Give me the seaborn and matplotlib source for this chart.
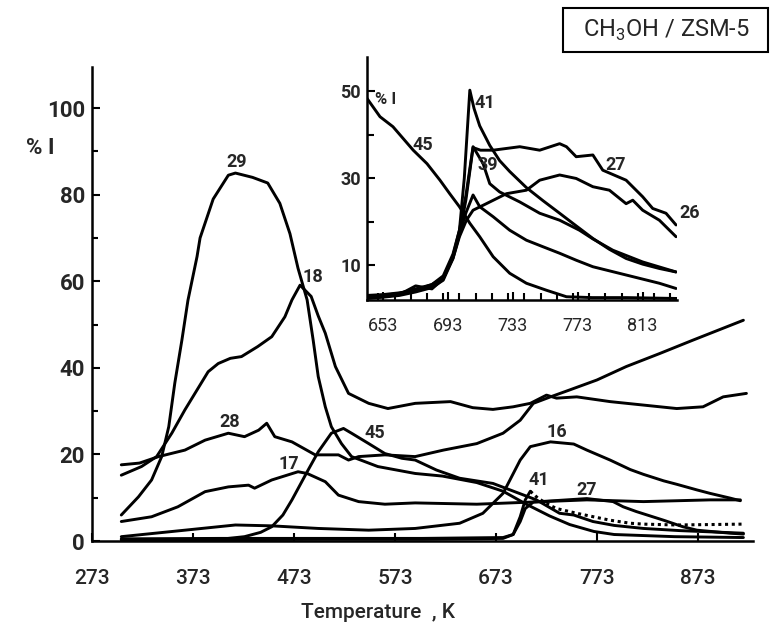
import matplotlib
matplotlib.use("Agg")
import matplotlib.pyplot as plt
from matplotlib.patches import Rectangle
from matplotlib.ticker import MultipleLocator
import seaborn as sns

# ---- main panel: temperature (K) and intensity (%I) per m/z ----
t29 = [302, 319, 332, 342, 349, 355, 362, 368, 377, 380, 393, 408, 415, 432, 447, 459, 469, 477, 486,
       492, 497, 504, 510, 520, 530, 556, 593, 620, 654, 680, 703, 726, 746, 770, 790, 850, 918]
i29 = [6.0, 10.2, 14.1, 19.5, 26.4, 36.5, 46.4, 55.6, 65.7, 70, 79, 84.5, 85, 84, 82.7, 78, 71, 63, 55.7,
       46.4, 38, 31, 26.4, 22.5, 19.5, 17.2, 15.6, 15.0, 13.5, 11.5, 8.5, 5.8, 3.8, 2.2, 1.5, 1.0, 0.8]

t18 = [302, 322, 337, 352, 365, 388, 398, 410, 421, 437, 451, 464, 471, 479, 490, 497, 504, 514, 527,
       547, 566, 593, 628, 650, 670, 690, 707, 723, 733, 753, 786, 819, 852, 878, 898, 921]
i18 = [15.2, 17.2, 19.5, 24.9, 30.3, 39.1, 41, 42.2, 42.6, 44.9, 47.2, 51.8, 55.7, 59.1, 56.5, 52, 48,
       40.3, 34.1, 31.8, 30.6, 31.8, 32.2, 30.8, 30.4, 31.0, 31.8, 33.7, 33.0, 33.3, 32.2, 31.4, 30.6,
       31.0, 33.3, 34.1]

t28 = [302, 320, 339, 365, 385, 408, 424, 438, 446, 454, 471, 494, 517, 527, 537, 563, 593, 621, 654,
       680, 697, 710, 727, 746, 773, 802, 835, 868, 918]
i28 = [17.6, 18.0, 19.5, 21, 23.3, 24.9, 24.1, 25.6, 27.2, 24.1, 22.9, 19.9, 19.9, 18.7, 19.5, 19.9,
       19.5, 21, 22.5, 24.9, 27.9, 31.8, 33.3, 34.9, 37.2, 40.3, 43.3, 46.4, 51.0]

t17 = [302, 332, 358, 385, 408, 428, 434, 451, 477, 486, 504, 517, 537, 563, 593, 654, 720, 763, 819,
       885, 915]
i17 = [4.5, 5.6, 7.9, 11.4, 12.5, 12.9, 12.2, 14.1, 16.0, 15.6, 13.7, 10.6, 9.1, 8.5, 8.8, 8.5, 9.1,
       9.5, 9.1, 9.5, 9.5]

t45 = [302, 350, 400, 424, 440, 451, 462, 471, 487, 497, 510, 522, 530, 547, 563, 580, 593, 614, 637,
       670, 687, 713, 736, 750, 769, 790, 819, 855, 918]
i45 = [0.3, 0.3, 0.4, 1.0, 2.0, 3.3, 6.0, 9.5, 16.4, 20.6, 24.9, 26.0, 24.9, 22.5, 20.2, 19.1, 18.7,
       16.4, 14.5, 13.3, 11.8, 9.5, 6.4, 6.0, 4.5, 3.6, 2.9, 2.4, 1.8]

t16 = [302, 365, 415, 451, 497, 547, 593, 637, 660, 680, 697, 707, 727, 750, 763, 786, 806, 819, 839,
       852, 872, 885, 905, 915]
i16 = [1.0, 2.5, 3.7, 3.5, 2.9, 2.5, 2.9, 4.1, 6.4, 11.0, 18.7, 21.8, 22.9, 22.4, 21.0, 18.7, 16.5,
       15.4, 13.9, 13.1, 11.8, 11.0, 9.9, 9.3]

t41 = [302, 400, 500, 600, 680, 690, 697, 702, 707]
i41 = [0.3, 0.3, 0.4, 0.4, 0.6, 1.5, 5.6, 9.5, 11.5]
t41_tail = [707, 715, 726, 733, 753, 786, 806, 819, 852, 885, 918]
i41_tail = [11.5, 9.8, 8.3, 7.5, 6.4, 4.8, 4.1, 3.9, 3.7, 3.8, 3.9]

t27 = [302, 400, 500, 600, 680, 690, 697, 702, 710, 730, 763, 789, 799, 812, 839, 858, 872, 905, 918]
i27 = [0.5, 0.6, 0.6, 0.6, 0.8, 1.5, 4.5, 7.5, 9.0, 9.3, 9.8, 9.1, 7.9, 6.8, 4.8, 3.3, 2.5, 1.8, 1.6]

main_labels = ["29", "18", "28", "17", "45", "16", "41", "27"]
main_label_pos = [(416, 87.6), (492, 61.0), (409.6, 27.6), (467.4, 17.9), (553, 24.9),
                  (733, 25.2), (715, 14.1), (763, 11.8)]

# ---- inset: 653-833 K ----
s45 = [643, 651, 659, 671.5, 680, 688, 694, 700, 706.4, 712.5, 720.8, 731, 741.3, 753.6, 766, 782, 803, 834]
v45 = [48.3, 44.1, 41.8, 36.4, 33.3, 29.5, 26.4, 23.4, 19.6, 16.5, 11.9, 8.1, 5.8, 4.2, 2.7, 2.5, 2.5, 2.3]

s41 = [643, 653, 663, 673, 683, 690, 696, 700, 703, 706.4, 709, 712.5, 718.7, 724.8, 731, 741.3, 751.5,
       761.8, 772, 782.3, 792.5, 802.8, 813, 823.3, 833.5]
v41 = [2.5, 2.8, 3.3, 4.0, 5.0, 7.0, 12, 18, 30, 50.2, 46, 42, 37.5, 34, 31.5, 27.8, 24.8, 21.9, 19,
       16.1, 13.6, 11.5, 10.2, 9.2, 8.4]

s39 = [643, 653, 663, 673, 683, 690, 696, 700, 704, 708.4, 714.6, 718.7, 724.8, 737.2, 749.5, 761.8,
       774, 782.3, 794.6, 813, 833.6]
v39 = [2.8, 3.0, 3.5, 4.5, 5.5, 7.5, 12.5, 18, 26, 37.2, 33.3, 28.7, 26.8, 24.5, 21.9, 20.3, 18.0,
       16.0, 13.4, 10.7, 8.4]

s27 = [643, 653, 663, 673, 683, 690, 696, 700, 704, 708.4, 713, 720.8, 737.2, 749.5, 761.8, 766, 772,
       782.3, 788.4, 802.8, 813, 819.2, 827.4, 833.6]
v27 = [2.3, 2.6, 3.0, 3.8, 4.8, 6.5, 11.5, 17, 25, 37.0, 36.4, 36.4, 37.2, 36.4, 37.9, 37.2, 34.9,
       35.3, 31.8, 29.5, 25.7, 23.0, 21.9, 19.2]

s26 = [643, 653, 663, 673, 683, 690, 696, 700, 704.3, 708.4, 716.6, 729, 741.3, 749.5, 761.8, 772,
       782.3, 792.5, 802.8, 806.9, 813, 823.3, 833.6]
v26 = [3.0, 3.2, 3.6, 4.2, 5.5, 7.0, 11.5, 16.5, 20.3, 22.6, 24.1, 26.4, 27.2, 29.5, 30.7, 29.9, 28.0,
       27.2, 24.1, 24.9, 22.6, 20.3, 16.5]

sx = [643, 653, 663, 673, 683, 690, 696, 700, 704, 708.4, 712.5, 720.8, 731, 741.3, 751.5, 761.8, 772,
      782.3, 802.8, 823.3, 833.6]
vx = [2.4, 2.7, 3.2, 5.2, 4.5, 6.8, 12, 17, 22, 26.1, 23.4, 21.1, 18, 15.7, 14.2, 12.7, 11.1, 9.6,
      7.7, 5.8, 4.6]

inset_labels = ["41", "45", "39", "27", "26"]
inset_label_pos = [(715.6, 47.2), (677.6, 37.6), (717.6, 33.0), (796.6, 33.0), (841.7, 22.0)]

main_xticks = [273, 373, 473, 573, 673, 773, 873]
inset_xticks = [653, 693, 733, 773, 813]

sns.set_theme(style="ticks")
plt.rcParams["font.family"] = ["Roboto", "DejaVu Sans"]
plt.rcParams["mathtext.fontset"] = "custom"
plt.rcParams["mathtext.rm"] = "Roboto"

W, H = 774, 632
fig = plt.figure(figsize=(W / 100, H / 100), dpi=100)
fig.patch.set_facecolor("white")

ax = fig.add_axes([92 / W, 1 - 541 / H, (753 - 92) / W, (541 - 67) / H])
ins = fig.add_axes([366.7 / W, 1 - 300 / H, (676.7 - 366.7) / W, (300 - 56.7) / H])

line_kw = dict(color="black", linewidth=2.1, estimator=None, sort=False, legend=False)

for t, v in [(t29, i29), (t18, i18), (t28, i28), (t17, i17), (t45, i45), (t16, i16), (t41, i41), (t27, i27)]:
    sns.lineplot(x=t, y=v, ax=ax, **line_kw)
sns.lineplot(x=t41_tail, y=i41_tail, ax=ax, color="black", linewidth=2.2, linestyle=(0, (1, 1.2)),
             estimator=None, sort=False, legend=False)

for t, v in [(s45, v45), (s41, v41), (s39, v39), (s27, v27), (s26, v26), (sx, vx)]:
    sns.lineplot(x=t, y=v, ax=ins, **line_kw)

for a in (ax, ins):
    a.set_facecolor("none")
    sns.despine(ax=a)
    for sp in ("left", "bottom"):
        a.spines[sp].set_linewidth(1.8)
        a.spines[sp].set_color("black")
    a.set_xlabel("")
    a.set_ylabel("")

ax.set_xlim(273, 927.5)
ax.set_ylim(0, 109.5)
ax.set_xticks(main_xticks)
ax.yaxis.set_major_locator(MultipleLocator(20))
ax.yaxis.set_minor_locator(MultipleLocator(10))
ax.tick_params(axis="both", which="major", direction="in", length=6, width=1.5, color="black")
ax.tick_params(axis="y", which="minor", direction="in", length=4, width=1.5, color="black")
ax.tick_params(axis="x", pad=20, labelsize=15)
ax.tick_params(axis="y", pad=5, labelsize=16)
for lab in ax.get_xticklabels():
    lab.set_fontweight("medium")
for lab in ax.get_yticklabels():
    lab.set_fontweight("bold")

ins.set_xlim(642.8, 834)
ins.set_ylim(1.95, 57.9)
ins.set_xticks(inset_xticks)
ins.xaxis.set_minor_locator(MultipleLocator(10))
ins.set_yticks([10, 30, 50])
ins.yaxis.set_minor_locator(MultipleLocator(10))
ins.tick_params(axis="both", which="both", direction="in", width=1.5, color="black")
ins.tick_params(axis="both", which="major", length=6)
ins.tick_params(axis="both", which="minor", length=5)
ins.tick_params(axis="x", pad=12, labelsize=13)
ins.tick_params(axis="y", pad=4, labelsize=13)
for lab in ins.get_yticklabels():
    lab.set_fontweight("bold")

for txt, (x, y) in zip(main_labels, main_label_pos):
    ax.text(x, y, txt, ha="center", va="center", fontsize=13, fontweight="bold")
for txt, (x, y) in zip(inset_labels, inset_label_pos):
    ins.text(x, y, txt, ha="center", va="center", fontsize=13, fontweight="bold", clip_on=False)

fig.text(40 / W, 1 - 148 / H, "% I", ha="center", va="center", fontsize=16, fontweight="bold")
fig.text(386 / W, 1 - 100 / H, "% I", ha="center", va="center", fontsize=12, fontweight="bold")
fig.text(378 / W, 1 - 612 / H, "Temperature  , K", ha="center", va="center", fontsize=15,
         fontweight="medium")

fig.patches.append(Rectangle((563 / W, 1 - 52 / H), 205 / W, 44 / H, transform=fig.transFigure,
                             fill=False, linewidth=1.5, edgecolor="black"))
fig.text(666 / W, 1 - 30 / H, r"CH$_3$OH / ZSM-5", ha="center", va="center", fontsize=17)

fig.savefig("out.png", dpi=100, facecolor="white")
